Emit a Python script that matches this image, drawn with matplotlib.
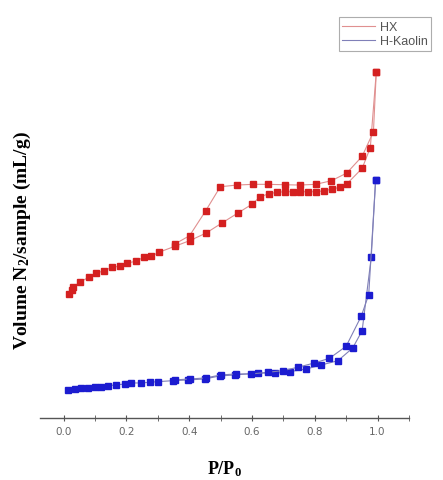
import numpy as np
import matplotlib
matplotlib.use("Agg")
import matplotlib.pyplot as plt

plt.rcParams['mathtext.fontset'] = 'custom'
plt.rcParams['mathtext.rm'] = 'Liberation Serif:bold'
plt.rcParams['mathtext.default'] = 'rm'

# HX (red) - adsorption branch
hx_ads_p = [0.017, 0.025, 0.030, 0.053, 0.080, 0.104, 0.128, 0.154, 0.178, 0.203,
            0.229, 0.255, 0.279, 0.303, 0.354, 0.401, 0.454, 0.504, 0.555, 0.601,
            0.626, 0.654, 0.679, 0.704, 0.730, 0.754, 0.778, 0.805, 0.831, 0.856,
            0.879, 0.902, 0.951, 0.977, 0.996]
hx_ads_v = [135, 139.3, 142, 147.3, 151.7, 155.7, 158.3, 161.7, 162.7, 166,
            167.7, 171.7, 172.7, 176.7, 182.7, 188.3, 196, 206, 216, 225,
            232.3, 235.3, 236.7, 237.3, 237.3, 237.3, 237.3, 237.3, 238.3, 240,
            241.7, 245, 260.7, 281.3, 356.7]
# HX (red) - desorption branch
hx_des_p = [0.996, 0.987, 0.951, 0.902, 0.853, 0.803, 0.752, 0.704, 0.651, 0.603,
            0.552, 0.499, 0.452, 0.401, 0.354]
hx_des_v = [356.7, 297.3, 272.7, 256, 248.3, 244.7, 244, 244.3, 244.7, 244.7,
            244, 242.3, 218, 193.3, 185]

# H-Kaolin (blue) - adsorption branch
hk_ads_p = [0.014, 0.035, 0.056, 0.077, 0.099, 0.120, 0.141, 0.168, 0.194, 0.216,
            0.247, 0.274, 0.300, 0.348, 0.396, 0.449, 0.497, 0.545, 0.619, 0.672,
            0.720, 0.773, 0.821, 0.874, 0.921, 0.951, 0.980, 0.994]
hk_ads_v = [39.3, 40, 40.7, 41, 41.7, 42.3, 43.3, 44, 45, 46,
            46, 46.7, 47.3, 48.3, 49, 50, 53, 54, 56, 55.7,
            57.3, 60, 64, 68.3, 81, 98.3, 171.7, 249]
# H-Kaolin (blue) - desorption branch
hk_des_p = [0.994, 0.972, 0.948, 0.900, 0.847, 0.799, 0.746, 0.698, 0.651, 0.598,
            0.548, 0.500, 0.452, 0.401, 0.354]
hk_des_v = [249, 134.3, 112.7, 82.7, 70.7, 66, 61.7, 58.3, 56.7, 55,
            55, 54, 51, 50, 49]

fig = plt.figure(figsize=(4.43, 4.81), dpi=100)
ax = fig.add_axes([0.090, 0.129, 0.833, 0.850])

red = '#d42020'
blue = '#1c1cd0'
ms = 3.8

ax.plot(hx_ads_p, hx_ads_v, color='#e09090', lw=0.8, marker='s', ms=ms,
        mfc=red, mec=red, label='HX')
ax.plot(hx_des_p, hx_des_v, color='#e09090', lw=0.8, marker='s', ms=ms,
        mfc=red, mec=red)
ax.plot(hk_ads_p, hk_ads_v, color='#8080b8', lw=0.8, marker='s', ms=ms,
        mfc=blue, mec=blue, label='H-Kaolin')
ax.plot(hk_des_p, hk_des_v, color='#8080b8', lw=0.8, marker='s', ms=ms,
        mfc=blue, mec=blue)

ax.set_xlim(-0.076, 1.099)
ax.set_ylim(11, 420)
for s in ['left', 'right', 'top']:
    ax.spines[s].set_visible(False)
ax.spines['bottom'].set_color('#555555')
ax.spines['bottom'].set_linewidth(1.0)
ax.set_yticks([])
ax.set_xticks(np.arange(0, 1.01, 0.2))
ax.set_xticks(np.arange(0.1, 1.11, 0.2), minor=True)
ax.tick_params(axis='x', which='both', direction='inout', length=4,
               color='#555555', labelsize=7.5, labelcolor='#666666', pad=4)
ax.set_xticklabels(['0.0', '0.2', '0.4', '0.6', '0.8', '1.0'])

ax.set_xlabel('P/P$_0$', fontfamily='Liberation Serif', fontweight='bold',
              fontsize=13, labelpad=16)
fig.text(0.05, 0.5, 'Volume N$_2$/sample (mL/g)', rotation=90,
         fontfamily='Liberation Serif', fontweight='bold', fontsize=14,
         ha='center', va='center')

leg = fig.legend(loc='upper right', bbox_to_anchor=(0.988, 0.975),
                 frameon=True, fancybox=False, handlelength=2.6,
                 borderpad=0.3, labelspacing=0.15, handletextpad=0.4,
                 prop={'family': 'Liberation Sans', 'size': 9})
leg.get_frame().set_edgecolor('#999999')
leg.get_frame().set_linewidth(0.8)
for h in leg.legend_handles:
    h.set_marker('')
for t in leg.get_texts():
    t.set_color('#555555')

fig.savefig('out.png', dpi=100)
